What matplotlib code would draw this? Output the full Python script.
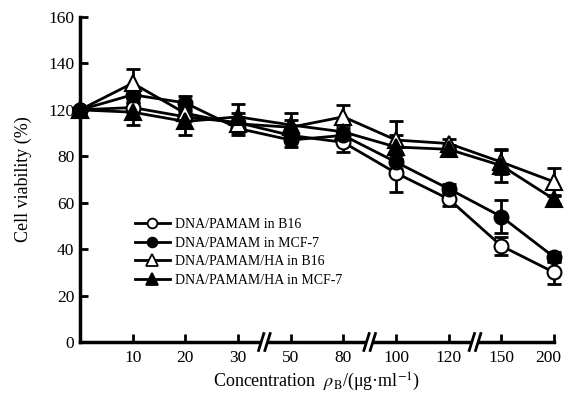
import matplotlib
matplotlib.use("Agg")
import matplotlib.pyplot as plt
import matplotlib.transforms as mtransforms
from matplotlib.lines import Line2D
from matplotlib.patches import Rectangle

plt.rcParams['font.family'] = ['Liberation Serif', 'DejaVu Serif']
plt.rcParams['mathtext.fontset'] = 'stix'

# ---- data ----
x_labels = ['', '10', '20', '30', '50', '80', '100', '120', '150', '200']
y_tick_values = [0, 20, 40, 60, 80, 100, 120, 140]
y_tick_labels = ['0', '20', '40', '60', '80', '120', '140', '160']

series_names = ['DNA/PAMAM in B16', 'DNA/PAMAM in MCF-7',
                'DNA/PAMAM/HA in B16', 'DNA/PAMAM/HA in MCF-7']

pamam_b16 = [100, 101, 97, 94.5, 89, 86, 72.8, 61.6, 41.4, 30]
pamam_b16_err = [1, 2, 2, 4, 2, 4, 8, 3, 4, 5]
pamam_mcf7 = [100, 106.5, 103, 92, 87, 89, 77.5, 66, 54, 36.6]
pamam_mcf7_err = [1, 3, 3, 3, 3, 2, 3, 2, 7, 2]
ha_b16 = [100, 111.5, 98.5, 94, 92.5, 97, 87, 85.5, 77.5, 69]
ha_b16_err = [1, 6, 3, 3, 3, 5, 8, 2, 5, 6]
ha_mcf7 = [100, 99, 95, 97, 93.5, 90.5, 84, 83, 76, 61.5]
ha_mcf7_err = [1, 5.5, 6, 5.5, 5, 3, 5, 2, 7, 2]

values = [pamam_b16, pamam_mcf7, ha_b16, ha_mcf7]
errors = [pamam_b16_err, pamam_mcf7_err, ha_b16_err, ha_mcf7_err]
markers = ['o', 'o', '^', '^']
faces = ['white', 'black', 'white', 'black']

fig = plt.figure(figsize=(5.65, 4.07), dpi=100)
ax = fig.add_axes([80/565, 65/407, 474/565, 325/407])

xs = list(range(len(x_labels)))
handles = []
for vals, errs, m, fc, name in zip(values, errors, markers, faces, series_names):
    ax.errorbar(xs, vals, yerr=errs, fmt='none', ecolor='black',
                elinewidth=2, capsize=5, capthick=2, clip_on=False, zorder=2)
    ax.plot(xs, vals, color='black', lw=2, marker=m, markersize=10 if m == 'o' else 11,
            markerfacecolor=fc, markeredgecolor='black', markeredgewidth=1.5,
            clip_on=False, zorder=3)
    handles.append(Line2D([], [], color='black', lw=2, marker=m,
                          markersize=7 if m == 'o' else 8,
                          markerfacecolor=fc, markeredgecolor='black',
                          markeredgewidth=1.3, label=name))

ax.set_xlim(0, len(x_labels) - 1)
ax.set_ylim(0, 140)
ax.set_xticks(xs[1:])
ax.set_xticklabels(x_labels[1:])
ax.set_yticks(y_tick_values)
ax.set_yticklabels(y_tick_labels)
ax.tick_params(direction='in', length=6, width=2, labelsize=12.5)
ax.tick_params(axis='x', pad=6)
ax.tick_params(axis='y', pad=4)
for s in ['top', 'right']:
    ax.spines[s].set_visible(False)
for s in ['left', 'bottom']:
    ax.spines[s].set_linewidth(2.5)

# nudge the last x tick label left so it stays inside the figure
last = ax.get_xticklabels()[-1]
last.set_transform(last.get_transform() +
                   mtransforms.ScaledTranslation(-6/100, 0, fig.dpi_scale_trans))

ax.set_ylabel('Cell viability (%)', fontsize=13, labelpad=12)
ax.set_xlabel('Concentration  $\\rho_\\mathrm{B}$/(μg·ml$^{-1}$)', fontsize=13, labelpad=3)

# axis breaks
tr = ax.get_xaxis_transform()
for xb in [3.5, 5.5, 7.5]:
    ax.add_patch(Rectangle((xb - 0.06, -0.02), 0.12, 0.04, transform=tr,
                           facecolor='white', edgecolor='none', clip_on=False, zorder=5))
    for dx in (-0.06, 0.06):
        ax.plot([xb + dx - 0.05, xb + dx + 0.05], [-0.026, 0.026], transform=tr,
                color='black', lw=2, clip_on=False, zorder=6)

ax.legend(handles=handles, loc='upper left',
          bbox_to_anchor=(135/565, 1 - 218/407), bbox_transform=fig.transFigure,
          frameon=False, fontsize=10, handlelength=2.5, handletextpad=0.35,
          labelspacing=0.4, borderpad=0, borderaxespad=0)

fig.savefig('out.png', dpi=100)
